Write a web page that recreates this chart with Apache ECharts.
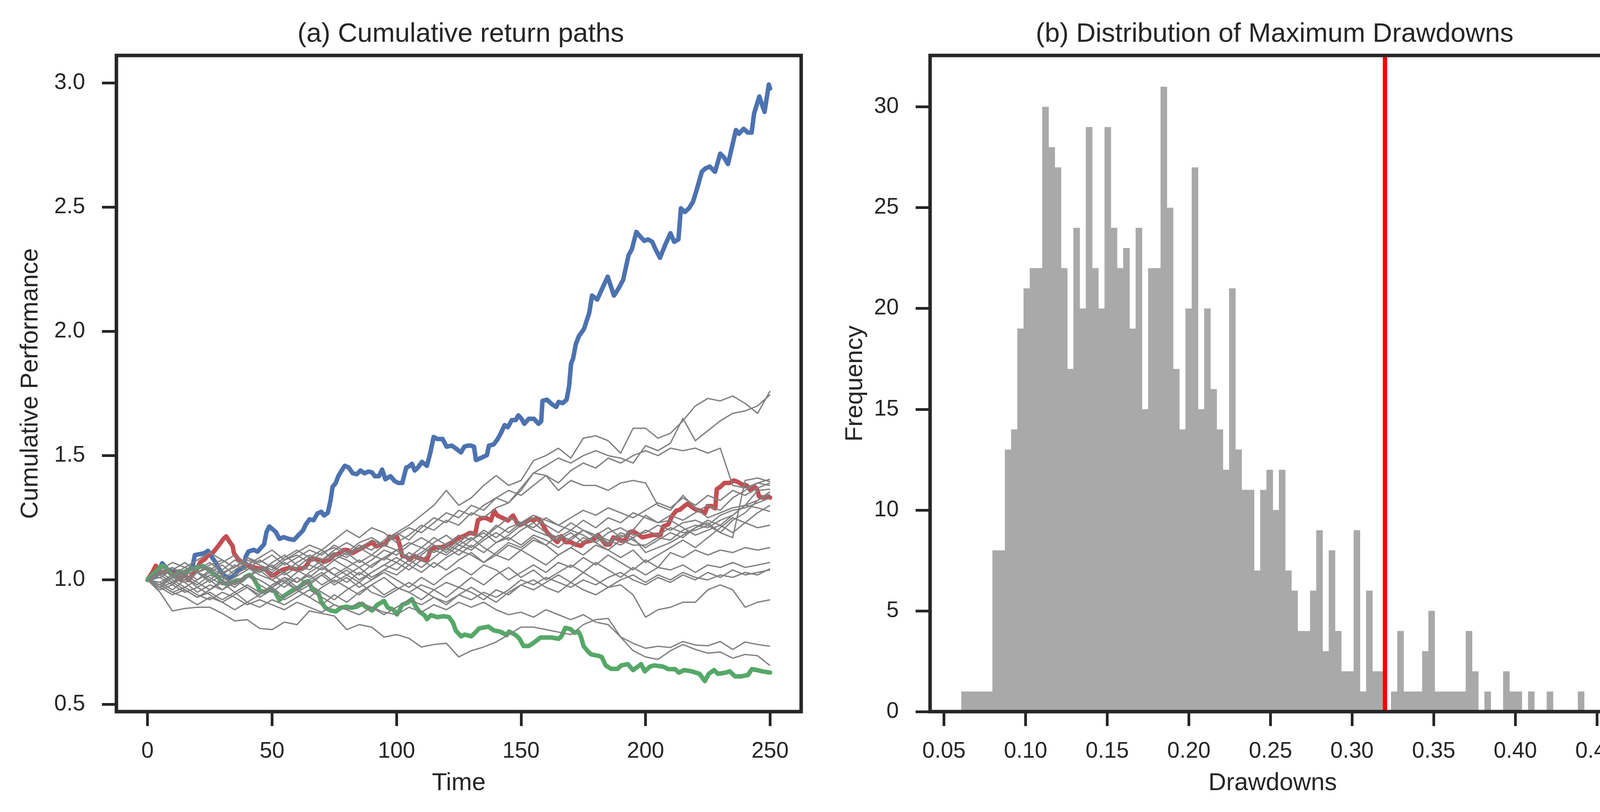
<!DOCTYPE html>
<html><head><meta charset="utf-8">
<script src="https://cdn.jsdelivr.net/npm/echarts/dist/echarts.min.js"></script>
<style>html,body{margin:0;padding:0;background:#fff}#c{width:4182px;height:2079px}</style>
</head><body><div id="c"></div>
<script>
// ---------- DATA ----------
const timeSteps = [0,5,10,15,20,25,30,35,40,45,50,55,60,65,70,75,80,85,90,95,100,105,110,115,120,125,130,135,140,145,150,155,160,165,170,175,180,185,190,195,200,205,210,215,220,225,230,235,240,245,250];
const timeTicks = [0,50,100,150,200,250];
const perfTicks = [0.5,1.0,1.5,2.0,2.5,3.0];

const grayPath01 = [1.00,1.03,1.05,1.02,1.04,1.07,1.03,1.05,1.08,1.06, 1.04,1.08,1.10,1.07,1.11,1.13,1.10,1.14,1.12,1.16, 1.19,1.22,1.26,1.30,1.36,1.30,1.33,1.38,1.42,1.38, 1.40,1.48,1.50,1.53,1.49,1.57,1.58,1.56,1.51,1.61, 1.61,1.57,1.59,1.64,1.70,1.73,1.72,1.74,1.71,1.67, 1.76];
const grayPath02 = [1.00,0.98,1.02,1.05,1.03,1.06,1.08,1.05,1.09,1.07, 1.10,1.06,1.09,1.12,1.10,1.14,1.11,1.15,1.17,1.14, 1.19,1.16,1.21,1.25,1.23,1.28,1.26,1.30,1.33,1.31, 1.36,1.43,1.46,1.49,1.47,1.50,1.52,1.50,1.49,1.47, 1.54,1.52,1.55,1.65,1.56,1.60,1.64,1.67,1.68,1.70, 1.745];
const grayPath03 = [1.00,1.04,1.02,0.99,1.03,1.05,1.02,1.06,1.04,1.08, 1.05,1.03,1.07,1.10,1.08,1.12,1.15,1.12,1.16,1.14, 1.18,1.21,1.19,1.23,1.27,1.25,1.30,1.28,1.33,1.36, 1.34,1.38,1.42,1.39,1.44,1.47,1.45,1.49,1.47,1.50, 1.52,1.50,1.53,1.52,1.53,1.51,1.53,1.38,1.37,1.39, 1.38];
const grayPath04 = [1.00,1.02,0.99,1.03,1.06,1.04,1.07,1.10,1.06,1.09, 1.12,1.08,1.11,1.14,1.12,1.16,1.20,1.17,1.21,1.19, 1.15,1.18,1.22,1.20,1.24,1.22,1.27,1.25,1.29,1.31, 1.37,1.43,1.42,1.36,1.40,1.38,1.38,1.36,1.39,1.40, 1.39,1.30,1.28,1.34,1.29,1.25,1.27,1.29,1.30,1.29, 1.275];
const grayPath05 = [1.00,0.97,1.01,1.04,1.00,1.03,1.06,1.02,1.05,1.03, 1.07,1.10,1.06,1.04,1.08,1.11,1.09,1.13,1.10,1.08, 1.12,1.15,1.13,1.11,1.14,1.12,1.16,1.19,1.15,1.17, 1.14,1.18,1.16,1.13,1.17,1.20,1.18,1.15,1.19,1.17, 1.20,1.18,1.21,1.19,1.20,1.22,1.19,1.17,1.40,1.41, 1.395];
const grayPath06 = [1.00,1.02,1.05,1.01,0.98,1.02,1.00,1.04,1.07,1.03, 1.06,1.02,1.05,1.09,1.12,1.08,1.11,1.07,1.10,1.14, 1.12,1.08,1.11,1.15,1.18,1.14,1.17,1.13,1.10,1.14, 1.12,1.16,1.14,1.10,1.13,1.17,1.15,1.12,1.16,1.14, 1.14,1.17,1.16,1.20,1.22,1.21,1.24,1.26,1.30,1.36, 1.365];
const grayPath07 = [1.00,0.99,0.96,1.00,1.03,0.99,1.02,0.98,1.01,1.05, 1.02,0.99,1.03,1.06,1.04,1.08,1.05,1.02,1.06,1.09, 1.12,1.09,1.13,1.17,1.14,1.18,1.16,1.20,1.17,1.21, 1.23,1.20,1.18,1.16,1.19,1.15,1.18,1.16,1.14,1.17, 1.11,1.13,1.15,1.18,1.21,1.23,1.19,1.24,1.27,1.32, 1.355];
const grayPath08 = [1.00,1.03,1.00,0.97,1.00,1.04,1.01,0.98,1.02,1.00, 0.97,1.01,0.99,1.03,1.06,1.02,1.05,1.08,1.05,1.09, 1.07,1.11,1.08,1.12,1.10,1.14,1.12,1.16,1.19,1.16, 1.20,1.23,1.19,1.17,1.20,1.18,1.15,1.19,1.21,1.18, 1.19,1.22,1.20,1.23,1.24,1.22,1.26,1.28,1.29,1.31, 1.33];
const grayPath09 = [1.00,0.98,1.01,0.99,0.95,0.98,0.96,1.00,0.97,0.94, 0.98,1.01,0.97,1.00,1.03,0.99,1.02,1.05,1.01,1.04, 1.02,1.06,1.03,1.07,1.04,1.08,1.11,1.07,1.10,1.08, 1.12,1.09,1.06,1.10,1.13,1.10,1.14,1.12,1.09,1.12, 1.07,1.10,1.13,1.16,1.13,1.17,1.21,1.25,1.23,1.27, 1.30];
const grayPath10 = [1.00,1.01,0.98,1.02,0.99,0.96,1.00,0.97,1.01,1.04, 1.00,1.03,0.99,1.02,0.98,1.01,1.04,1.00,1.03,1.06, 1.04,1.08,1.05,1.09,1.13,1.10,1.14,1.11,1.15,1.18, 1.22,1.25,1.22,1.19,1.23,1.20,1.18,1.21,1.17,1.20, 1.26,1.23,1.24,1.21,1.18,1.20,1.22,1.19,1.23,1.21, 1.22];
const grayPath11 = [1.00,0.97,0.99,0.96,0.93,0.96,0.99,0.95,0.98,0.95, 0.97,1.00,0.96,0.99,1.02,0.98,1.01,0.97,1.00,1.03, 1.00,0.97,1.01,0.98,1.02,1.05,1.02,1.06,1.04,1.00, 1.03,1.06,1.03,1.07,1.05,1.09,1.06,1.10,1.07,1.04, 1.08,1.05,1.11,1.09,1.12,1.10,1.12,1.11,1.13,1.12, 1.13];
const grayPath12 = [1.00,1.02,0.99,1.01,0.97,1.00,0.96,0.99,1.02,0.98, 0.95,0.99,0.96,0.93,0.97,1.00,0.97,0.94,0.98,1.01, 0.97,0.95,0.98,0.96,0.99,0.97,1.01,0.98,1.02,1.05, 1.01,1.04,1.00,1.03,1.06,1.03,1.07,1.04,1.01,1.05, 1.02,1.05,1.04,1.06,1.03,1.06,1.05,1.07,1.05,1.06, 1.07];
const grayPath13 = [1.00,0.96,0.98,0.95,0.97,0.94,0.91,0.94,0.97,0.93, 0.96,0.92,0.95,0.98,0.95,0.92,0.96,0.99,0.95,0.93, 0.96,0.99,0.96,0.93,0.90,0.94,0.97,0.94,0.91,0.95, 0.98,0.96,0.99,1.02,0.99,1.03,1.00,0.97,1.00,1.02, 0.99,1.02,1.00,1.03,1.01,1.00,1.02,1.01,1.03,1.02, 1.045];
const grayPath14 = [1.00,0.97,0.94,0.96,0.93,0.95,0.92,0.95,0.91,0.94, 0.97,0.93,0.96,0.93,0.90,0.94,0.91,0.95,0.98,0.94, 0.97,0.95,0.92,0.96,0.93,0.97,0.95,0.92,0.96,0.94, 0.98,1.00,0.97,0.95,0.99,0.96,0.94,0.97,0.98,0.94, 0.85,0.88,0.89,0.91,0.91,0.96,0.98,0.96,0.89,0.91, 0.92];
const grayPath15 = [1.00,0.95,0.875,0.885,0.89,0.89,0.865,0.835,0.84,0.805, 0.80,0.83,0.82,0.875,0.865,0.855,0.80,0.82,0.81,0.77, 0.78,0.765,0.73,0.74,0.745,0.69,0.715,0.73,0.75,0.78, 0.81,0.81,0.80,0.79,0.78,0.82,0.84,0.845,0.77,0.745, 0.725,0.733,0.728,0.752,0.738,0.735,0.752,0.72,0.75,0.74, 0.733];
const grayPath16 = [1.00,0.98,0.95,0.97,0.94,0.92,0.95,0.93,0.90,0.92, 0.90,0.88,0.91,0.89,0.87,0.90,0.88,0.86,0.89,0.87, 0.86,0.89,0.87,0.90,0.88,0.91,0.89,0.91,0.88,0.86, 0.87,0.85,0.88,0.86,0.84,0.86,0.83,0.82,0.77,0.715, 0.69,0.68,0.715,0.74,0.72,0.705,0.71,0.685,0.70,0.695, 0.655];
const grayPath17 = [1.00,1.01,1.04,1.07,1.03,1.00,1.04,1.08,1.05,1.02, 1.00,0.97,1.01,0.98,1.02,1.05,1.02,0.99,1.03,1.06, 1.09,1.06,1.10,1.14,1.11,1.15,1.19,1.17,1.22,1.19, 1.23,1.21,1.25,1.22,1.20,1.24,1.21,1.25,1.23,1.27, 1.25,1.23,1.26,1.24,1.27,1.30,1.28,1.33,1.36,1.39, 1.405];
const grayPath18 = [1.00,0.99,1.02,1.00,1.03,1.01,0.98,1.01,1.04,1.08, 1.05,1.09,1.12,1.09,1.06,1.10,1.08,1.05,1.08,1.12, 1.10,1.14,1.17,1.14,1.12,1.16,1.13,1.17,1.21,1.25, 1.23,1.26,1.24,1.22,1.25,1.28,1.26,1.29,1.27,1.25, 1.28,1.31,1.29,1.33,1.30,1.34,1.32,1.36,1.34,1.37, 1.39];
const grayPath19 = [1.00,0.98,0.95,0.93,0.90,0.93,0.91,0.88,0.91,0.89, 0.92,0.90,0.93,0.96,0.93,0.90,0.88,0.91,0.89,0.86, 0.89,0.92,0.90,0.93,0.91,0.94,0.92,0.95,0.93,0.96, 1.00,0.98,1.01,0.99,0.97,1.00,0.98,1.01,1.03,1.00, 0.98,1.01,0.99,1.02,1.00,1.03,1.01,1.04,1.02,1.03, 1.04];
const grayPath20 = [1.00,1.04,1.07,1.05,1.08,1.11,1.08,1.05,1.09,1.06, 1.03,1.07,1.04,1.01,1.05,1.02,0.99,1.03,1.00,1.04, 1.07,1.04,1.08,1.05,1.09,1.12,1.10,1.07,1.11,1.15, 1.13,1.17,1.14,1.18,1.16,1.20,1.17,1.14,1.18,1.16, 1.13,1.16,1.19,1.17,1.21,1.24,1.22,1.26,1.30,1.32, 1.345];

const bestPath = [[0,1.0],[3.3,1.013],[5.9,1.067],[8,1.042],[11,1.03],[14.3,1.027],[18,1.05],[19,1.10],[22.7,1.107],[24.3,1.117],[25.8,1.092],[27.4,1.07],[28.4,1.049],[30.5,1.02],[32.6,1.006],[34.7,1.017],[36.8,1.042],[38.4,1.049],[39.4,1.092],[40.5,1.114],[42.6,1.121],[44.2,1.114],[46.8,1.143],[47.8,1.193],[48.9,1.215],[51.5,1.193],[53,1.165],[54.6,1.172],[56.7,1.165],[58.8,1.161],[60.9,1.183],[62.5,1.2],[63.5,1.222],[65.1,1.244],[66.7,1.24],[68.2,1.267],[69.8,1.274],[70.9,1.259],[72.4,1.27],[73.5,1.32],[74.3,1.374],[75.6,1.39],[76.6,1.417],[77.7,1.436],[79.2,1.459],[80.8,1.452],[82.4,1.429],[84,1.425],[85.5,1.44],[87.1,1.429],[88.7,1.436],[90.2,1.432],[91.3,1.417],[92.9,1.417],[94.2,1.444],[95.5,1.405],[97.6,1.417],[99.2,1.398],[100.7,1.39],[102.3,1.39],[103.9,1.452],[104.9,1.456],[106.2,1.467],[107.3,1.44],[108.6,1.452],[110.2,1.475],[112.2,1.459],[113.6,1.513],[114.9,1.575],[116.4,1.567],[118.5,1.567],[120.1,1.536],[122.2,1.54],[123.8,1.529],[125.9,1.513],[127.2,1.536],[128.5,1.54],[130,1.54],[131.1,1.536],[131.9,1.482],[134.2,1.492],[136.3,1.502],[137.1,1.54],[139,1.545],[140.5,1.565],[142.1,1.594],[143.4,1.623],[144.7,1.614],[146.3,1.643],[147.9,1.643],[148.9,1.662],[150.2,1.648],[151.3,1.628],[153.1,1.648],[155.2,1.648],[157,1.628],[158.1,1.638],[158.6,1.72],[160.4,1.725],[162.5,1.706],[164.1,1.696],[165.1,1.716],[166.7,1.711],[168.3,1.725],[169.3,1.779],[170.1,1.871],[170.9,1.89],[172,1.949],[173.2,1.98],[175.3,2.01],[177.4,2.075],[178.5,2.144],[180.6,2.128],[182.5,2.17],[184.8,2.22],[187.3,2.144],[189,2.17],[191,2.207],[193.2,2.307],[194.5,2.33],[196.3,2.40],[198,2.38],[199.5,2.364],[201,2.37],[202.7,2.36],[204,2.33],[205.8,2.296],[207.9,2.348],[210,2.395],[211.5,2.36],[213.2,2.37],[214.2,2.495],[215.8,2.48],[217.4,2.495],[219,2.52],[220.5,2.568],[222.6,2.642],[224,2.655],[225.8,2.663],[227.9,2.642],[230,2.715],[231.5,2.70],[233.1,2.673],[236.3,2.81],[237.5,2.795],[239.4,2.815],[241,2.80],[242.6,2.80],[243.6,2.877],[245.7,2.945],[247.2,2.90],[247.8,2.883],[249.5,2.993],[250,2.977]];

const medianPath = [[0,1.0],[2.2,1.035],[3.3,1.057],[4.9,1.028],[7.5,1.035],[9.5,1.03],[11.7,1.017],[13.2,1.0],[14.8,1.028],[16.4,0.999],[18,1.02],[19.5,1.035],[21.1,1.071],[23.2,1.085],[24.3,1.1],[26.3,1.11],[28.4,1.136],[30.5,1.165],[31.6,1.175],[33.2,1.15],[34.2,1.136],[34.7,1.107],[36.3,1.085],[38.4,1.067],[40,1.056],[41.5,1.056],[43.1,1.049],[45.7,1.045],[47.3,1.042],[48.9,1.027],[49.9,1.017],[51,1.02],[53,1.035],[54.6,1.042],[57.2,1.049],[59.9,1.042],[62,1.045],[63.5,1.053],[65.1,1.078],[66.7,1.085],[68.8,1.081],[70.9,1.073],[73,1.081],[75.1,1.1],[77.2,1.108],[78.7,1.12],[80.3,1.12],[82.4,1.108],[84.5,1.12],[86.6,1.131],[88.7,1.143],[90.2,1.151],[91.8,1.135],[93.9,1.143],[95.5,1.143],[97.1,1.174],[98.6,1.17],[100.2,1.174],[101.2,1.143],[102.3,1.097],[103.9,1.093],[105.4,1.081],[107,1.097],[108.6,1.089],[110.7,1.081],[112.2,1.081],[113.8,1.124],[115.9,1.131],[118,1.131],[120.1,1.139],[122.2,1.151],[124.3,1.166],[127.4,1.178],[129.5,1.189],[131.6,1.185],[132.7,1.24],[134.2,1.249],[136,1.249],[137.9,1.239],[139.2,1.278],[140.5,1.259],[142.6,1.249],[144.7,1.239],[146.8,1.259],[148.4,1.23],[149.4,1.22],[151.5,1.23],[153.6,1.244],[155.2,1.239],[156.2,1.249],[158.3,1.23],[159.4,1.21],[160.4,1.191],[162.5,1.171],[164.6,1.152],[166.2,1.176],[167.8,1.152],[169.9,1.152],[172,1.142],[174,1.137],[175.6,1.152],[177.7,1.157],[179.3,1.162],[180.9,1.181],[182.4,1.162],[184,1.142],[185.6,1.142],[187.1,1.171],[188.7,1.166],[190.3,1.157],[191.9,1.162],[193.4,1.191],[195,1.196],[197.5,1.18],[198.7,1.171],[200.8,1.176],[202.9,1.181],[206,1.181],[207.1,1.215],[209.2,1.224],[210.7,1.258],[212.3,1.278],[213.9,1.283],[215.5,1.297],[217,1.307],[218.6,1.293],[220.2,1.283],[222.3,1.278],[223.8,1.268],[224.9,1.297],[226.5,1.297],[228,1.288],[228.6,1.365],[230.1,1.375],[231.7,1.39],[233.8,1.39],[235.4,1.4],[236.9,1.395],[238.5,1.385],[240.6,1.38],[242.2,1.36],[243.7,1.375],[244.8,1.365],[245.6,1.336],[246.9,1.331],[249,1.336],[250,1.331]];

const worstPath = [[0,1.0],[2,1.02],[4.3,1.042],[5.9,1.056],[7.5,1.049],[9,1.027],[10.6,1.013],[12.7,1.035],[14.8,1.028],[16.9,1.042],[19.5,1.05],[22.2,1.056],[24.3,1.042],[26.3,1.027],[28.4,1.013],[29.5,0.991],[31.6,0.984],[33.7,0.988],[35.8,0.998],[37.9,0.998],[39.4,1.013],[41,1.02],[42.6,1.006],[44.2,0.977],[45.2,0.955],[47.3,0.952],[49.4,0.962],[51,0.955],[53,0.919],[54.6,0.934],[56.7,0.948],[58.8,0.962],[60.9,0.97],[63,0.991],[64.6,0.995],[66.2,0.962],[66.7,0.958],[68.8,0.942],[69.8,0.911],[71.4,0.888],[73.5,0.877],[75.6,0.873],[77.7,0.888],[79.8,0.892],[81.9,0.888],[84,0.892],[86.1,0.904],[87.6,0.892],[90.2,0.877],[92.3,0.9],[95,0.915],[96.5,0.888],[98.6,0.881],[100.2,0.861],[102.3,0.9],[104.4,0.908],[106.2,0.923],[107.5,0.896],[109.1,0.873],[111.2,0.858],[112.2,0.842],[113.8,0.858],[116.4,0.85],[119,0.854],[121.1,0.85],[122.7,0.827],[123.8,0.796],[125.9,0.773],[127.4,0.78],[130,0.773],[131.6,0.788],[133.2,0.805],[134.2,0.807],[136.9,0.812],[139,0.797],[141.6,0.792],[144.2,0.778],[145.2,0.792],[147.9,0.778],[149.4,0.763],[151,0.734],[153.1,0.734],[155.2,0.748],[157.8,0.768],[159.9,0.768],[162.5,0.768],[165.1,0.763],[166.2,0.773],[167.8,0.807],[169.9,0.802],[171.4,0.787],[173,0.792],[174,0.773],[175.1,0.734],[176.7,0.714],[178.2,0.7],[180.9,0.695],[182.4,0.69],[184,0.656],[186.1,0.642],[188.7,0.642],[190.3,0.656],[192.9,0.661],[195,0.637],[197.6,0.656],[198.2,0.661],[199.7,0.632],[201.8,0.651],[203.4,0.656],[207,0.651],[209.2,0.641],[211.8,0.641],[213.4,0.627],[215.5,0.637],[218.6,0.632],[221.7,0.622],[223.8,0.593],[225.4,0.622],[227.5,0.637],[229.1,0.622],[232.2,0.627],[233.8,0.632],[235.9,0.612],[238.5,0.612],[241.1,0.617],[242.7,0.641],[244.8,0.637],[246.9,0.632],[250,0.627]];

// Histogram of maximum drawdowns: 100 bins
const binStart = 0.0606;
const binWidth = 0.003815;
const binCounts = [1,1,1,1,1,8,8,13,14,19, 21,22,22,30,28,27,22,17,24,20, 29,22,20,29,24,22,23,19,24,15, 22,22,31,25,17,14,20,27,15,20, 16,14,12,21,13,11,11,7,11,12, 10,12,7,6,4,4,6,9,3,8, 4,2,2,9,1,6,2,2,0,1, 4,1,1,1,3,5,1,1,1,1, 1,4,2,0,1,0,0,2,1,1, 0,1,0,0,1,0,0,0,0,1];
const drawdownTicks = [0.05,0.10,0.15,0.20,0.25,0.30,0.35,0.40,0.45];
const freqTicks = [0,5,10,15,20,25,30];
const drawdownMarker = 0.315;

// ---------- LAYOUT ----------
const FONT = '"Liberation Sans", Arial, Helvetica, sans-serif';
const INK = '#262626';
const G1 = {left: 298, top: 142, width: 1753, height: 1680};
const G2 = {left: 2381, top: 142, width: 1754, height: 1680};

const grayPaths = [grayPath01,grayPath02,grayPath03,grayPath04,grayPath05,grayPath06,grayPath07,grayPath08,grayPath09,grayPath10,
                   grayPath11,grayPath12,grayPath13,grayPath14,grayPath15,grayPath16,grayPath17,grayPath18,grayPath19,grayPath20];

const histData = binCounts.map((c, i) => [binStart + i * binWidth, binStart + (i + 1) * binWidth, c]);

function axisCommon() {
  return {
    axisLine: {show: false, onZero: false},
    splitLine: {show: false},
    axisTick: {show: true, length: 37, lineStyle: {color: INK, width: 7}},
    axisLabel: {color: INK, fontSize: 57, fontFamily: FONT},
    nameTextStyle: {color: INK, fontSize: 63, fontFamily: FONT}
  };
}

const series = [];
const colored = [[bestPath, '#4c72b0'], [medianPath, '#c44e52'], [worstPath, '#55a868']];
colored.forEach(([p, col]) => series.push({
  type: 'line', xAxisIndex: 0, yAxisIndex: 0, data: p, showSymbol: false, silent: true,
  lineStyle: {color: col, width: 11.5, join: 'round', cap: 'round'}, animation: false
}));
grayPaths.forEach(p => series.push({
  type: 'line', xAxisIndex: 0, yAxisIndex: 0,
  data: p.map((v, i) => [timeSteps[i], v]), showSymbol: false, silent: true,
  lineStyle: {color: '#808080', width: 3.4, join: 'round'}, animation: false
}));
series.push({
  type: 'custom', xAxisIndex: 1, yAxisIndex: 1, data: histData, silent: true, animation: false,
  encode: {x: [0, 1], y: 2},
  renderItem: function (params, api) {
    const p0 = api.coord([api.value(0), api.value(2)]);
    const p1 = api.coord([api.value(1), 0]);
    return {type: 'rect', shape: {x: p0[0], y: p0[1], width: p1[0] - p0[0] + 0.8, height: p1[1] - p0[1]},
            style: {fill: '#a9a9a9'}};
  }
});
series.push({
  type: 'line', xAxisIndex: 1, yAxisIndex: 1, data: [], silent: true, animation: false,
  markLine: {symbol: 'none', silent: true, animation: false, label: {show: false},
    lineStyle: {color: '#ff0000', width: 11, type: 'solid'}, data: [{xAxis: drawdownMarker}]}
});

const x1 = Object.assign(axisCommon(), {
  type: 'value', gridIndex: 0, min: -12.5, max: 262.5, name: 'Time', nameLocation: 'middle', nameGap: 152
});
x1.axisTick.customValues = timeTicks;
x1.axisLabel = Object.assign({}, x1.axisLabel, {customValues: timeTicks, margin: 74, formatter: v => String(v)});

const y1 = Object.assign(axisCommon(), {
  type: 'value', gridIndex: 0, min: 0.47, max: 3.11, name: 'Cumulative Performance', nameLocation: 'middle', nameGap: 188, nameRotate: 90
});
y1.axisTick.customValues = perfTicks;
y1.axisLabel = Object.assign({}, y1.axisLabel, {customValues: perfTicks, margin: 80, formatter: v => v.toFixed(1)});

const x2 = Object.assign(axisCommon(), {
  type: 'value', gridIndex: 1, min: 0.0415, max: 0.4612, name: 'Drawdowns', nameLocation: 'middle', nameGap: 152
});
x2.axisTick.customValues = drawdownTicks;
x2.axisLabel = Object.assign({}, x2.axisLabel, {customValues: drawdownTicks, margin: 74, formatter: v => v.toFixed(2)});

const y2 = Object.assign(axisCommon(), {
  type: 'value', gridIndex: 1, min: 0, max: 32.55, name: 'Frequency', nameLocation: 'middle', nameGap: 160, nameRotate: 90
});
y2.axisTick.customValues = freqTicks;
y2.axisLabel = Object.assign({}, y2.axisLabel, {customValues: freqTicks, margin: 80, formatter: v => String(v)});

const chart = echarts.init(document.getElementById('c'), null, {renderer: 'canvas'});
chart.setOption({
  backgroundColor: '#ffffff',
  animation: false,
  textStyle: {fontFamily: FONT},
  title: [
    {text: '(a) Cumulative return paths', left: G1.left + G1.width / 2, top: 48, textAlign: 'center',
     textStyle: {color: INK, fontSize: 69, fontWeight: 'normal', fontFamily: FONT}},
    {text: '(b) Distribution of Maximum Drawdowns', left: G2.left + G2.width / 2, top: 48, textAlign: 'center',
     textStyle: {color: INK, fontSize: 69, fontWeight: 'normal', fontFamily: FONT}}
  ],
  grid: [
    Object.assign({show: false, containLabel: false}, G1),
    Object.assign({show: false, containLabel: false}, G2)
  ],
  xAxis: [x1, x2],
  yAxis: [y1, y2],
  graphic: [
    {type: 'rect', z: 100, silent: true, shape: {x: G1.left, y: G1.top, width: G1.width, height: G1.height},
     style: {fill: 'none', stroke: INK, lineWidth: 9}},
    {type: 'rect', z: 100, silent: true, shape: {x: G2.left, y: G2.top, width: G2.width, height: G2.height},
     style: {fill: 'none', stroke: INK, lineWidth: 9}}
  ],
  series: series
});
</script>
</body></html>
